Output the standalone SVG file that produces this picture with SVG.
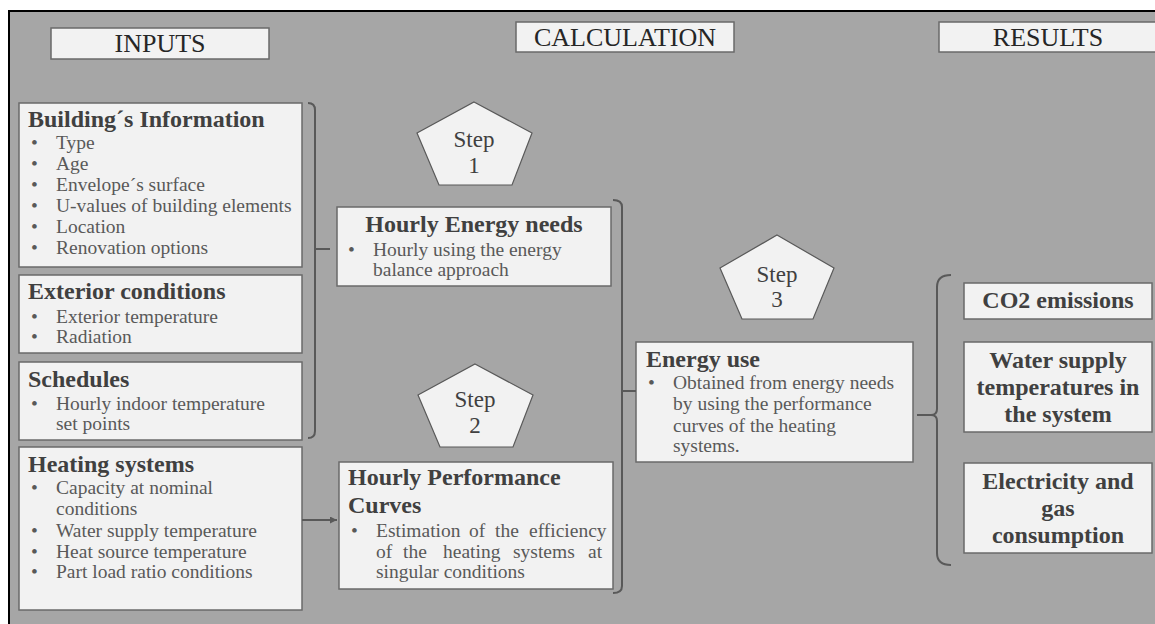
<svg xmlns="http://www.w3.org/2000/svg" width="1155" height="624" viewBox="0 0 1155 624">
<style>
.box{fill:#f2f2f2;stroke:#6a6a6a;stroke-width:1.5}
.pent{fill:#f2f2f2;stroke:#595959;stroke-width:1.2}
.hdr{font-family:"Liberation Serif",serif;font-size:26px;fill:#262626;text-anchor:middle}
.ttl{font-family:"Liberation Serif",serif;font-size:24px;font-weight:bold;fill:#404040}
.body{font-family:"Liberation Serif",serif;font-size:19.5px;fill:#595959}
.step{font-family:"Liberation Serif",serif;font-size:23px;fill:#404040;text-anchor:middle}
.res{font-family:"Liberation Serif",serif;font-size:24px;font-weight:bold;fill:#404040;text-anchor:middle}
.con{fill:none;stroke:#595959;stroke-width:2}
</style>
<defs>
<marker id="arr" viewBox="0 0 10 10" refX="10" refY="5" markerWidth="7" markerHeight="7" orient="auto" markerUnits="userSpaceOnUse">
<path d="M0,0 L10,5 L0,10 z" fill="#595959"/>
</marker>
</defs>
<rect x="0" y="0" width="1155" height="624" fill="#ffffff"/>
<rect x="10" y="12" width="1150" height="620" fill="#a6a6a6"/>
<path d="M9,624 V11 H1155" fill="none" stroke="#000" stroke-width="2"/>

<g id="hdr-inputs"><rect class="box" x="51" y="28" width="218" height="31"/><text class="hdr" x="160" y="52">INPUTS</text></g>
<g id="hdr-calc"><rect class="box" x="516" y="22" width="218" height="30"/><text class="hdr" x="625" y="46">CALCULATION</text></g>
<g id="hdr-results"><rect class="box" x="939" y="22" width="220" height="30"/><text class="hdr" x="1048" y="46">RESULTS</text></g>

<g id="building">
<rect class="box" x="19" y="103" width="283" height="164"/>
<text class="ttl" x="28" y="127">Building´s Information</text>
<g class="body">
<text x="31" y="149">•</text><text x="56" y="149">Type</text>
<text x="31" y="170">•</text><text x="56" y="170">Age</text>
<text x="31" y="191">•</text><text x="56" y="191">Envelope´s surface</text>
<text x="31" y="212">•</text><text x="56" y="212">U-values of building elements</text>
<text x="31" y="233">•</text><text x="56" y="233">Location</text>
<text x="31" y="254">•</text><text x="56" y="254">Renovation options</text>
</g>
</g>

<g id="exterior">
<rect class="box" x="19" y="275" width="283" height="78"/>
<text class="ttl" x="28" y="299">Exterior conditions</text>
<g class="body">
<text x="31" y="323">•</text><text x="56" y="323">Exterior temperature</text>
<text x="31" y="343">•</text><text x="56" y="343">Radiation</text>
</g>
</g>

<g id="schedules">
<rect class="box" x="19" y="362" width="283" height="78"/>
<text class="ttl" x="28" y="387">Schedules</text>
<g class="body">
<text x="31" y="410">•</text><text x="56" y="410">Hourly indoor temperature</text>
<text x="56" y="430">set points</text>
</g>
</g>

<g id="heating">
<rect class="box" x="19" y="447" width="283" height="163"/>
<text class="ttl" x="28" y="472">Heating systems</text>
<g class="body">
<text x="31" y="494">•</text><text x="56" y="494">Capacity at nominal</text>
<text x="56" y="515">conditions</text>
<text x="31" y="537">•</text><text x="56" y="537">Water supply temperature</text>
<text x="31" y="558">•</text><text x="56" y="558">Heat source temperature</text>
<text x="31" y="578">•</text><text x="56" y="578">Part load ratio conditions</text>
</g>
</g>

<g id="step1">
<polygon class="pent" points="474,102 532,133 512,185 439,185 417,133"/>
<text class="step" x="474" y="147">Step</text>
<text class="step" x="474" y="173">1</text>
</g>

<g id="energy-needs">
<rect class="box" x="337" y="207" width="274" height="79"/>
<text class="ttl" x="474" y="232" text-anchor="middle">Hourly Energy needs</text>
<g class="body">
<text x="348" y="256">•</text><text x="373" y="256">Hourly using the energy</text>
<text x="373" y="276">balance approach</text>
</g>
</g>

<g id="step2">
<polygon class="pent" points="475,364 533,395 513,447 440,447 418,395"/>
<text class="step" x="475" y="407">Step</text>
<text class="step" x="475" y="433">2</text>
</g>

<g id="performance">
<rect class="box" x="339" y="462" width="274" height="127"/>
<text class="ttl" x="348" y="485">Hourly Performance</text>
<text class="ttl" x="348" y="513">Curves</text>
<g class="body">
<text x="351" y="537">•</text>
<text y="537"><tspan x="376">Estimation</tspan><tspan x="469">of</tspan><tspan x="495">the</tspan><tspan x="529">efficiency</tspan></text>
<text y="558"><tspan x="376">of</tspan><tspan x="403">the</tspan><tspan x="443">heating</tspan><tspan x="513">systems</tspan><tspan x="588">at</tspan></text>
<text x="376" y="578">singular conditions</text>
</g>
</g>

<g id="step3">
<polygon class="pent" points="777,235 834,268 813,319 742,319 720,268"/>
<text class="step" x="777" y="282">Step</text>
<text class="step" x="777" y="307">3</text>
</g>

<g id="energy-use">
<rect class="box" x="636" y="342" width="277" height="120"/>
<text class="ttl" x="646" y="367">Energy use</text>
<g class="body">
<text x="648" y="389">•</text><text x="673" y="389">Obtained from energy needs</text>
<text x="673" y="410">by using the performance</text>
<text x="673" y="432">curves of the heating</text>
<text x="673" y="452">systems.</text>
</g>
</g>

<g id="co2">
<rect class="box" x="964" y="283" width="188" height="36"/>
<text class="res" x="1058" y="308">CO2 emissions</text>
</g>
<g id="water">
<rect class="box" x="964" y="342" width="188" height="90"/>
<text class="res" x="1058" y="368">Water supply</text>
<text class="res" x="1058" y="395">temperatures in</text>
<text class="res" x="1058" y="422">the system</text>
</g>
<g id="electricity">
<rect class="box" x="964" y="463" width="188" height="90"/>
<text class="res" x="1058" y="489">Electricity and</text>
<text class="res" x="1058" y="516">gas</text>
<text class="res" x="1058" y="543">consumption</text>
</g>

<g id="connectors">
<path class="con" d="M308,103 Q315,103 315,110 V431 Q315,438 308,438 M315,249 H330"/>
<path class="con" d="M613,200 Q622,200 622,207 V586 Q622,593 613,593 M622,391 H636"/>
<path class="con" d="M951,275 Q937,275 937,287 V409 Q937,415 931,415 Q937,415 937,421 V553 Q937,565 951,565 M917,415 H931"/>
<line class="con" x1="302" y1="520" x2="337" y2="520" marker-end="url(#arr)"/>
</g>
</svg>
